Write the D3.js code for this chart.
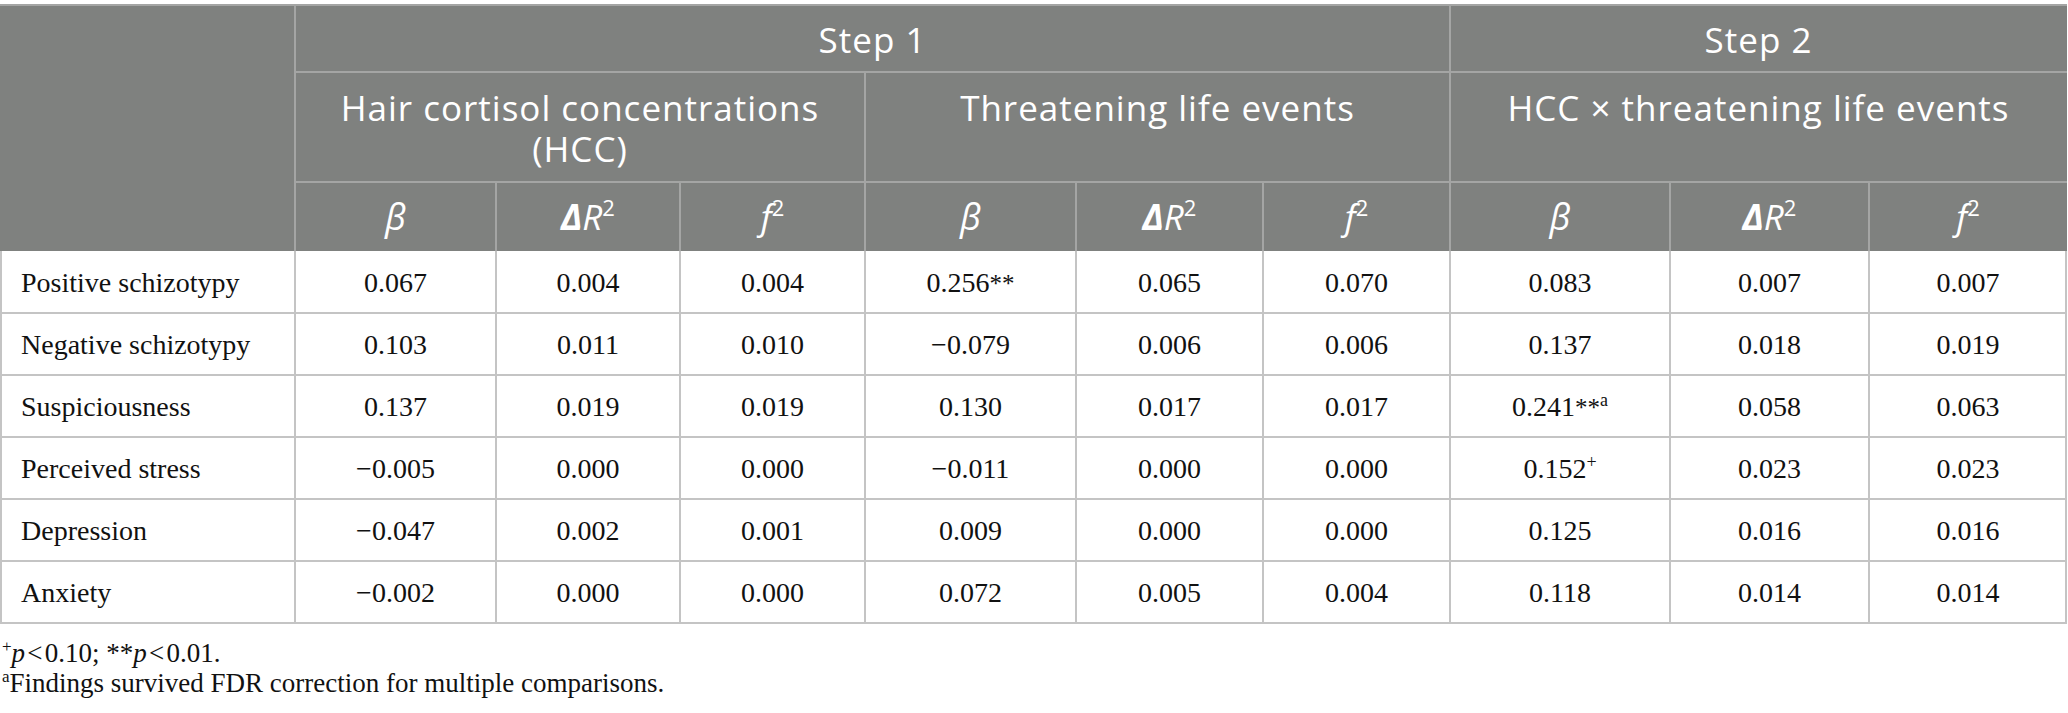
<!DOCTYPE html>
<html>
<head>
<meta charset="utf-8">
<script src="https://cdn.jsdelivr.net/npm/d3@7"></script>
<style>
  body { margin: 0; background: #fff; }
  svg { display: block; }
</style>
</head>
<body>
<div id="canva"></div>
<script>
const rowLabels = ["Positive schizotypy", "Negative schizotypy", "Suspiciousness",
                   "Perceived stress", "Depression", "Anxiety"];

const hccBeta    = [0.067, 0.103, 0.137, -0.005, -0.047, -0.002];
const hccDeltaR2 = [0.004, 0.011, 0.019, 0.000, 0.002, 0.000];
const hccF2      = [0.004, 0.010, 0.019, 0.000, 0.001, 0.000];

const tleBeta      = [0.256, -0.079, 0.130, -0.011, 0.009, 0.072];
const tleBetaStars = ["**", "", "", "", "", ""];
const tleDeltaR2   = [0.065, 0.006, 0.017, 0.000, 0.000, 0.005];
const tleF2        = [0.070, 0.006, 0.017, 0.000, 0.000, 0.004];

const intBeta      = [0.083, 0.137, 0.241, 0.152, 0.125, 0.118];
const intBetaStars = ["", "", "**", "", "", ""];
const intBetaSup   = ["", "", "a", "+", "", ""];
const intDeltaR2   = [0.007, 0.018, 0.058, 0.023, 0.016, 0.014];
const intF2        = [0.007, 0.019, 0.063, 0.023, 0.016, 0.014];

const stepLabels  = ["Step 1", "Step 2"];
const groupLabels = [["Hair cortisol concentrations", "(HCC)"],
                     ["Threatening life events"],
                     ["HCC \u00d7 threatening life events"]];
const statLabels  = ["beta", "dr2", "f2"];

// layout
const width = 2068, height = 713;
const colKeys  = ["label", "hb", "hd", "hf", "tb", "td", "tf", "ib", "id", "if"];
const colEdges = [0, 295, 496, 680, 865, 1076, 1263, 1450, 1670, 1869, 2067];
const tableTop = 5, stepBottom = 72, groupBottom = 182, headBottom = 251, tableBottom = 623;

const headFill = "#7f817f", headLine = "#a4a5a4", gridLine = "#c4c4c4";
const sansFont = "'Open Sans', 'Noto Sans', sans-serif";
const serifFont = "'Liberation Serif', 'DejaVu Serif', serif";

const xLeft  = d3.scaleOrdinal().domain(colKeys).range(colEdges.slice(0, -1));
const xRight = d3.scaleOrdinal().domain(colKeys).range(colEdges.slice(1));
const xMid = k => (xLeft(k) + xRight(k)) / 2;

const y = d3.scaleBand().domain(rowLabels).range([headBottom, tableBottom]).padding(0);

const fmt = d3.format(".3f");

const svg = d3.select("#canva").append("svg")
    .attr("width", width)
    .attr("height", height)
    .attr("viewBox", `0 0 ${width} ${height}`);

svg.append("rect").attr("width", width).attr("height", height).attr("fill", "#fff");

// header block
svg.append("rect")
    .attr("x", 0).attr("y", tableTop)
    .attr("width", colEdges[colEdges.length - 1]).attr("height", headBottom - tableTop)
    .attr("fill", headFill);

const headLines = svg.append("g").attr("stroke", headLine).attr("stroke-width", 2);
headLines.append("line").attr("x1", 0).attr("x2", 2067).attr("y1", tableTop).attr("y2", tableTop);
headLines.append("line").attr("x1", xLeft("hb")).attr("x2", 2067)
    .attr("y1", stepBottom).attr("y2", stepBottom);
headLines.append("line").attr("x1", xLeft("hb")).attr("x2", 2067)
    .attr("y1", groupBottom).attr("y2", groupBottom);

// vertical header lines: full height, from step row, from group row
[["hb", tableTop], ["ib", tableTop], ["tb", stepBottom],
 ["hd", groupBottom], ["hf", groupBottom], ["td", groupBottom], ["tf", groupBottom],
 ["id", groupBottom], ["if", groupBottom]].forEach(([k, y0]) => {
    headLines.append("line")
        .attr("x1", xLeft(k)).attr("x2", xLeft(k))
        .attr("y1", y0).attr("y2", headBottom);
});

const headText = svg.append("g")
    .attr("font-family", sansFont)
    .attr("font-size", 35)
    .attr("letter-spacing", 1)
    .attr("fill", "#fff")
    .attr("text-anchor", "middle");

const stepSpans = [["hb", "tf"], ["ib", "if"]];
headText.selectAll(".step")
    .data(stepLabels)
    .enter().append("text")
    .attr("class", "step")
    .attr("x", (d, i) => (xLeft(stepSpans[i][0]) + xRight(stepSpans[i][1])) / 2)
    .attr("y", 53)
    .text(d => d);

const groupSpans = [["hb", "hf"], ["tb", "tf"], ["ib", "if"]];
groupLabels.forEach((lines, i) => {
    const cx = (xLeft(groupSpans[i][0]) + xRight(groupSpans[i][1])) / 2;
    const t = headText.append("text").attr("y", 121);
    lines.forEach((line, j) => {
        t.append("tspan").attr("x", cx).attr("dy", j === 0 ? 0 : 41).text(line);
    });
});

// beta / delta R2 / f2 sub headers
const statCols = ["hb", "hd", "hf", "tb", "td", "tf", "ib", "id", "if"];
statCols.forEach((k, i) => {
    const stat = statLabels[i % 3];
    const t = headText.append("text")
        .attr("x", xMid(k))
        .attr("y", 230)
        .attr("letter-spacing", 0)
        .attr("font-style", "italic");
    if (stat === "beta") {
        t.append("tspan").attr("font-size", 36).text("\u03b2");
    } else if (stat === "dr2") {
        t.append("tspan").attr("font-weight", 700).text("\u0394");
        t.append("tspan").attr("font-weight", 500).text("R");
        t.append("tspan").attr("font-size", 22).attr("font-style", "normal")
            .attr("dy", -14).text("2");
    } else {
        t.append("tspan").attr("font-weight", 500).text("f");
        t.append("tspan").attr("font-size", 22).attr("font-style", "normal")
            .attr("dy", -14).text("2");
    }
});

// data grid
const grid = svg.append("g").attr("stroke", gridLine).attr("stroke-width", 2);
grid.selectAll(".hline")
    .data(rowLabels)
    .enter().append("line")
    .attr("x1", 0).attr("x2", 2067)
    .attr("y1", d => y(d) + y.bandwidth())
    .attr("y2", d => y(d) + y.bandwidth());
grid.selectAll(".vline")
    .data(colEdges)
    .enter().append("line")
    .attr("x1", d => Math.max(1, Math.min(2066, d)))
    .attr("x2", d => Math.max(1, Math.min(2066, d)))
    .attr("y1", headBottom).attr("y2", tableBottom);

const body = svg.append("g")
    .attr("font-family", serifFont)
    .attr("font-size", 28)
    .attr("fill", "#111");

body.selectAll(".label")
    .data(rowLabels)
    .enter().append("text")
    .attr("x", 21)
    .attr("y", d => y(d) + y.bandwidth() / 2 + 10)
    .text(d => d);

const columns = [
    ["hb", hccBeta, null, null], ["hd", hccDeltaR2, null, null], ["hf", hccF2, null, null],
    ["tb", tleBeta, tleBetaStars, null], ["td", tleDeltaR2, null, null], ["tf", tleF2, null, null],
    ["ib", intBeta, intBetaStars, intBetaSup], ["id", intDeltaR2, null, null], ["if", intF2, null, null]
];

columns.forEach(([k, values, stars, sups]) => {
    const cells = body.selectAll(".c-" + k)
        .data(values)
        .enter().append("text")
        .attr("class", "c-" + k)
        .attr("text-anchor", "middle")
        .attr("x", xMid(k))
        .attr("y", (d, i) => y(rowLabels[i]) + y.bandwidth() / 2 + 10);
    cells.append("tspan").text(d => fmt(d));
    cells.each(function (d, i) {
        const cell = d3.select(this);
        if (stars && stars[i]) {
            cell.append("tspan").attr("font-size", 25).text(stars[i]);
        }
        if (sups && sups[i]) {
            cell.append("tspan").attr("font-size", 18).attr("dy", -10).text(sups[i]);
        }
    });
});

// footnotes
const notes = svg.append("g")
    .attr("font-family", serifFont)
    .attr("font-size", 27)
    .attr("fill", "#111");

const n1 = notes.append("text").attr("x", 2).attr("y", 662);
n1.append("tspan").attr("font-size", 17).attr("dy", -10).text("+");
n1.append("tspan").attr("dy", 10).attr("font-style", "italic").text("p");
n1.append("tspan").text("\u200a<\u200a0.10; **");
n1.append("tspan").attr("font-style", "italic").text("p");
n1.append("tspan").text("\u200a<\u200a0.01.");

const n2 = notes.append("text").attr("x", 2).attr("y", 692);
n2.append("tspan").attr("font-size", 17).attr("dy", -10).text("a");
n2.append("tspan").attr("dy", 10).text("Findings survived FDR correction for multiple comparisons.");
</script>
</body>
</html>
